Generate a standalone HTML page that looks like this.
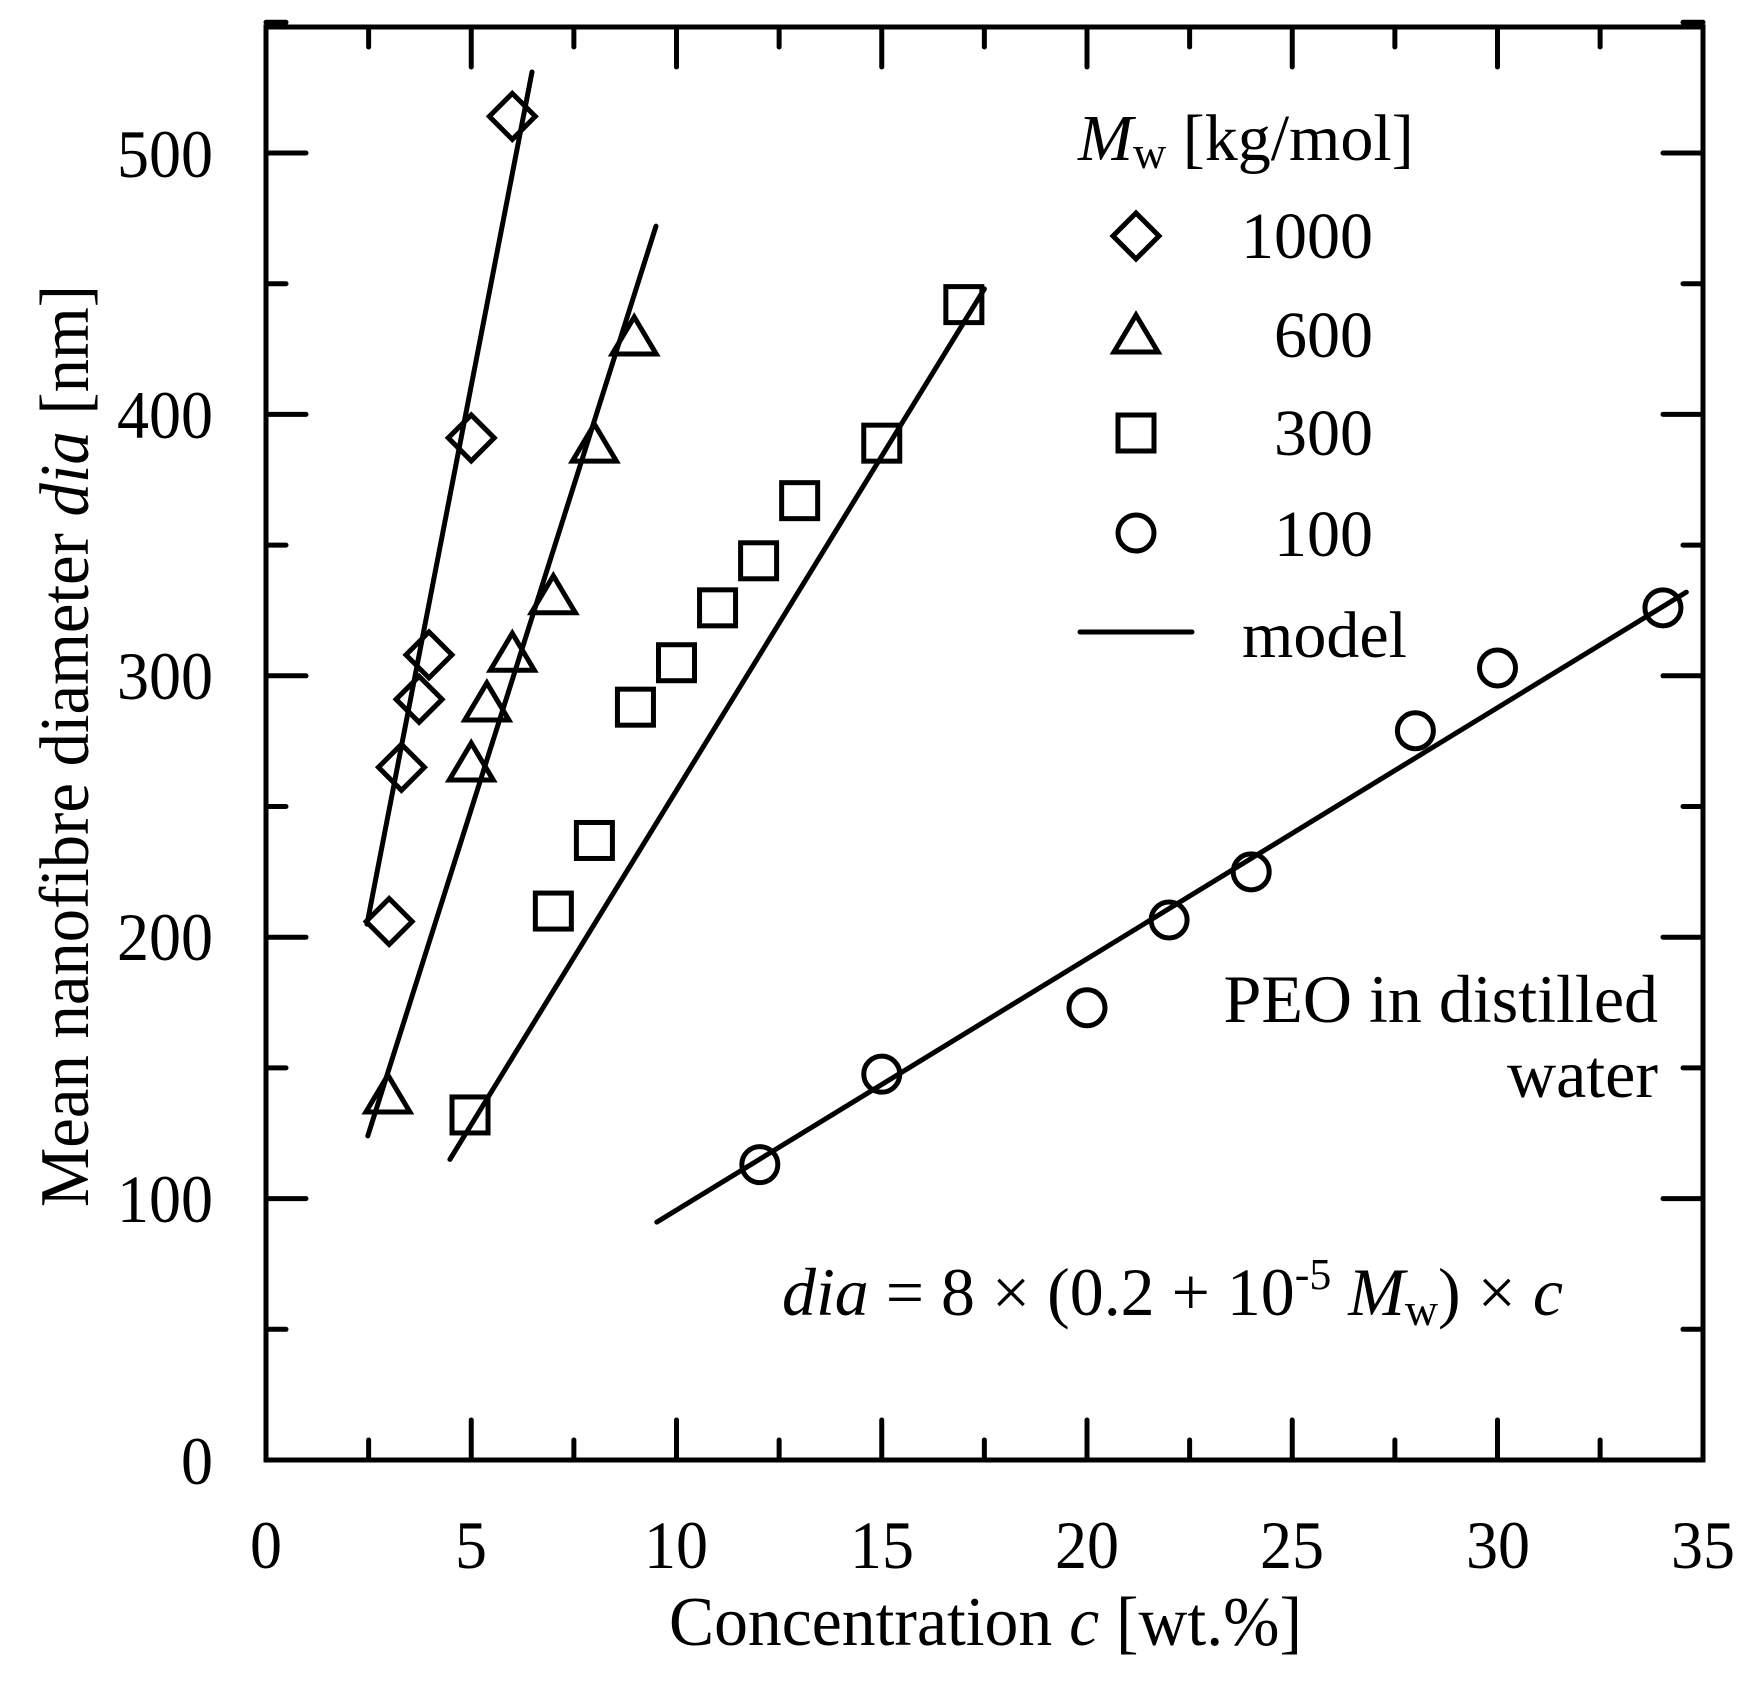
<!DOCTYPE html>
<html><head><meta charset="utf-8"><style>
html,body{margin:0;padding:0;background:#fff;}
svg{display:block;}
text{font-family:"Liberation Serif","Times New Roman",serif;fill:#000;}
</style></head><body>
<svg id="s" width="1751" height="1686" viewBox="0 0 1751 1686" xmlns="http://www.w3.org/2000/svg">
<rect width="1751" height="1686" fill="#fff"/>
<g id="g" stroke="#000" stroke-width="5" fill="none" stroke-linecap="round" stroke-linejoin="miter"></g>
<g font-size="68">
<text x="213" y="1484" text-anchor="end" textLength="32" lengthAdjust="spacingAndGlyphs">0</text>
<text x="213" y="1222" text-anchor="end" textLength="96" lengthAdjust="spacingAndGlyphs">100</text>
<text x="213" y="960" text-anchor="end" textLength="96" lengthAdjust="spacingAndGlyphs">200</text>
<text x="213" y="699" text-anchor="end" textLength="96" lengthAdjust="spacingAndGlyphs">300</text>
<text x="213" y="438" text-anchor="end" textLength="96" lengthAdjust="spacingAndGlyphs">400</text>
<text x="213" y="177" text-anchor="end" textLength="96" lengthAdjust="spacingAndGlyphs">500</text>
<text x="266" y="1568" text-anchor="middle" textLength="32" lengthAdjust="spacingAndGlyphs">0</text>
<text x="471" y="1568" text-anchor="middle" textLength="32" lengthAdjust="spacingAndGlyphs">5</text>
<text x="676" y="1568" text-anchor="middle" textLength="64" lengthAdjust="spacingAndGlyphs">10</text>
<text x="882" y="1568" text-anchor="middle" textLength="64" lengthAdjust="spacingAndGlyphs">15</text>
<text x="1087" y="1568" text-anchor="middle" textLength="64" lengthAdjust="spacingAndGlyphs">20</text>
<text x="1292" y="1568" text-anchor="middle" textLength="64" lengthAdjust="spacingAndGlyphs">25</text>
<text x="1498" y="1568" text-anchor="middle" textLength="64" lengthAdjust="spacingAndGlyphs">30</text>
<text x="1703" y="1568" text-anchor="middle" textLength="64" lengthAdjust="spacingAndGlyphs">35</text>
</g>
<text x="669" y="1645" font-size="70" textLength="633" lengthAdjust="spacingAndGlyphs">Concentration <tspan font-style="italic">c</tspan> [wt.%]</text>
<text transform="translate(88,1207) rotate(-90)" x="0" y="0" font-size="70" textLength="922" lengthAdjust="spacingAndGlyphs">Mean nanofibre diameter <tspan font-style="italic">dia</tspan> [nm]</text>
<text x="1078" y="160" font-size="66"><tspan font-style="italic">M</tspan><tspan font-size="46" dy="8">w</tspan><tspan dy="-8"> [kg/mol]</tspan></text>
<g font-size="66" text-anchor="end">
<text x="1373" y="258">1000</text>
<text x="1373" y="357">600</text>
<text x="1373" y="455">300</text>
<text x="1373" y="556">100</text>
</g>
<text x="1242" y="657" font-size="66">model</text>
<text x="1658" y="1022" font-size="68" text-anchor="end">PEO in distilled</text>
<text x="1658" y="1097" font-size="68" text-anchor="end">water</text>
<text x="782" y="1315" font-size="68" textLength="781" lengthAdjust="spacingAndGlyphs"><tspan font-style="italic">dia</tspan> = 8 × (0.2 + 10<tspan font-size="44" dy="-26">-5</tspan><tspan dy="26"> </tspan><tspan font-style="italic">M</tspan><tspan font-size="46" dy="10">w</tspan><tspan dy="-10">) × </tspan><tspan font-style="italic">c</tspan></text>
</svg>
<script>
(function(){
var g=document.getElementById('g'),NS='http://www.w3.org/2000/svg';
function X(c){return 266+41.05*c;}function Y(v){return 1460-2.614*v;}
function el(t,a){var e=document.createElementNS(NS,t);for(var k in a)e.setAttribute(k,a[k]);g.appendChild(e);return e;}
el('rect',{x:266,y:27,width:1437,height:1433});
for(var v=0;v<=550;v+=50){var L=(v%100==0)?40:20,y=Y(v);if(v==0)continue;
el('line',{x1:266,y1:y,x2:266+L,y2:y});el('line',{x1:1703,y1:y,x2:1703-L,y2:y});}
for(var c=2.5;c<35;c+=2.5){var L=(c%5==0)?40:20,x=X(c);
el('line',{x1:x,y1:1460,x2:x,y2:1460-L});el('line',{x1:x,y1:27,x2:x,y2:27+L});}
function dia(x,y){el('polygon',{points:(x-23)+','+y+' '+x+','+(y-23)+' '+(x+23)+','+y+' '+x+','+(y+23)});}
function tri(x,y){el('polygon',{points:x+','+(y-19)+' '+(x+22)+','+(y+18)+' '+(x-22)+','+(y+18)});}
function sq(x,y){el('rect',{x:x-18,y:y-18,width:36,height:36});}
function ci(x,y){el('circle',{cx:x,cy:y,r:18});}
function ln(a,b,c,d){el('line',{x1:X(a),y1:Y(b),x2:X(c),y2:Y(d)});}
ln(2.46,205,6.48,531);ln(2.48,124,9.5,472);ln(4.48,115,17.5,448);ln(9.52,91,34.6,332);
[[3,206],[3.3,265],[3.73,291],[3.97,308],[5,391],[6,514]].forEach(function(p){dia(X(p[0]),Y(p[1]));});
[[2.97,140],[5,267],[5.38,290],[6,309],[7,331],[8,389],[8.97,430]].forEach(function(p){tri(X(p[0]),Y(p[1]));});
[[4.97,132],[7,210],[8,237],[9,288],[10,305],[11,326],[12,344],[13,367],[15,389],[17,442]].forEach(function(p){sq(X(p[0]),Y(p[1]));});
[[12.03,113],[15,147.6],[20,173],[22,206.6],[24,225],[28,279],[30,303],[34.03,326]].forEach(function(p){ci(X(p[0]),Y(p[1]));});
dia(1136,236);tri(1136,334);sq(1136,433);ci(1136,533);
el('line',{x1:1080,y1:632,x2:1192,y2:632});
})();
</script>
</body></html>
